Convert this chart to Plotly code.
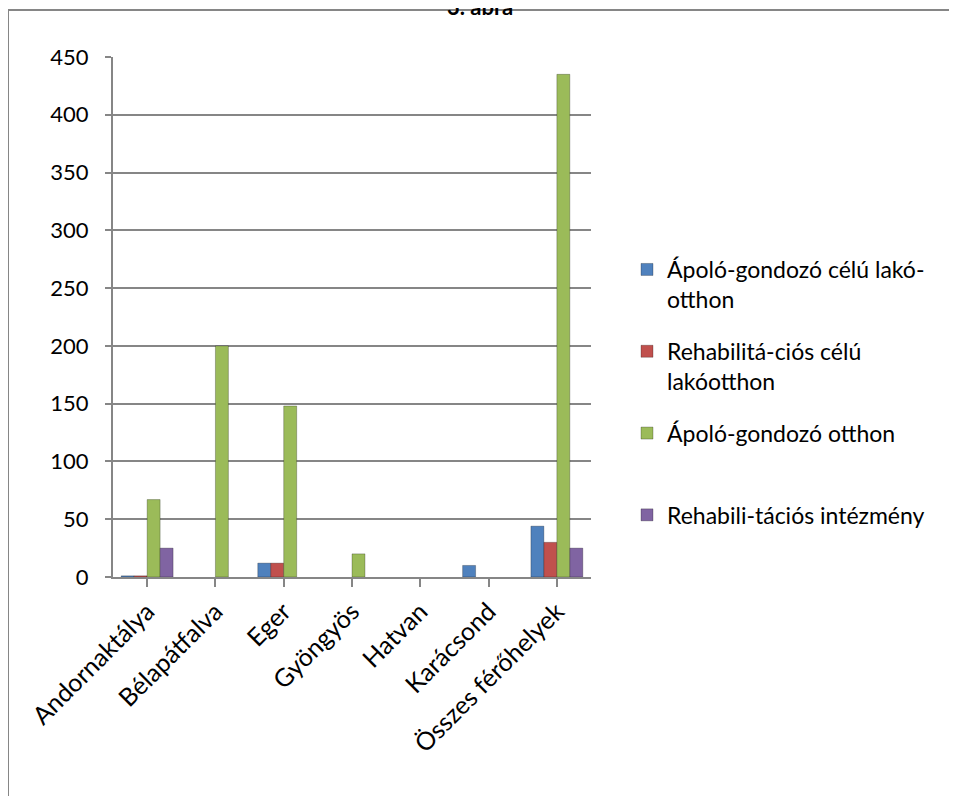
import plotly.graph_objects as go

categories = ["Andornaktálya", "Bélapátfalva", "Eger", "Gyöngyös", "Hatvan", "Karácsond", "Összes férőhelyek"]
series_names = [
    "Ápoló-gondozó célú lakó-<br>otthon",
    "Rehabilitá-ciós célú<br>lakóotthon",
    "Ápoló-gondozó otthon<br> ",
    "Rehabili-tációs intézmény",
]
apolo_lako = [1, None, 12, None, None, 10, 44]
rehab_lako = [1, None, 12, None, None, None, 30]
apolo_otthon = [67, 200, 148, 20, None, None, 435]
rehab_int = [25, None, None, None, None, None, 25]
colors = ["#4F81BD", "#C0504D", "#9BBB59", "#8064A2"]
y_ticks = [0, 50, 100, 150, 200, 250, 300, 350, 400, 450]

FONT = "Lato"
L, R, T, B = 105, 374, 49, 227
PW, PH = 957 - L - R, 796 - T - B


def px_x(sx):
    return (sx - 8 - L) / PW


def px_y(sy):
    return 1 - (sy - 8 - T) / PH


fig = go.Figure()
for name, vals, col in zip(series_names, [apolo_lako, rehab_lako, apolo_otthon, rehab_int], colors):
    fig.add_trace(go.Bar(
        x=categories, y=vals, name=name, legendgroup=name,
        marker=dict(color=col, line=dict(color="rgba(0,0,0,0.25)", width=1)),
    ))

fig.update_layout(
    width=957, height=796,
    margin=dict(l=L, r=R, t=T, b=B),
    paper_bgcolor="white", plot_bgcolor="white",
    barmode="group", bargap=0.24, bargroupgap=0.0,
    font=dict(family=FONT, size=22, color="#000000"),
    showlegend=True,
    legend=dict(x=px_x(627), y=px_y(248), xanchor="left", yanchor="top",
                font=dict(family=FONT, size=23), valign="top",
                tracegroupgap=19, itemwidth=30, bgcolor="rgba(0,0,0,0)"),
    xaxis=dict(showline=True, linecolor="#868686", linewidth=2,
               ticks="outside", ticklen=8, tickcolor="#868686", tickwidth=2,
               tickangle=-45, tickfont=dict(size=25, family=FONT),
               showgrid=False),
    yaxis=dict(range=[0, 450], tickvals=y_ticks, showline=True, linecolor="#868686",
               linewidth=2, ticks="outside", ticklen=6, tickcolor="#868686",
               tickwidth=2, showgrid=True, gridcolor="#868686", gridwidth=2,
               tickfont=dict(size=22, family=FONT), zeroline=False,
               ticklabelstandoff=12),
    shapes=[dict(type="rect", xref="paper", yref="paper",
                 x0=px_x(8), x1=px_x(990),
                 y0=px_y(830), y1=px_y(10),
                 line=dict(color="#868686", width=2), layer="below")],
    annotations=[dict(text="<b>3. ábra</b>", xref="paper", yref="paper",
                      x=px_x(480), y=px_y(7),
                      xanchor="center", yanchor="middle", showarrow=False,
                      font=dict(family=FONT, size=22))],
)
fig.write_html("out.html")
